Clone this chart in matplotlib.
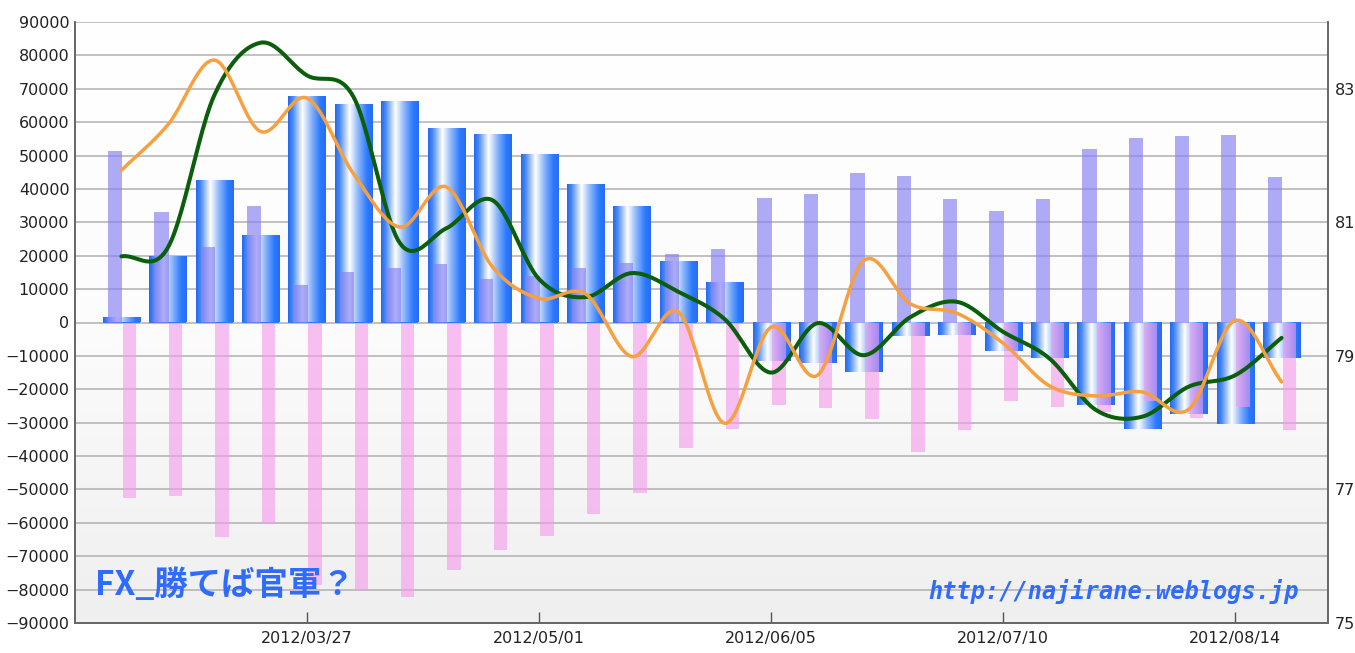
import numpy as np
import matplotlib
matplotlib.use("Agg")
import matplotlib.pyplot as plt
from matplotlib.colors import LinearSegmentedColormap

# ---------------- data ----------------
dates = ['2012/02/28', '2012/03/06', '2012/03/13', '2012/03/20', '2012/03/27',
         '2012/04/03', '2012/04/10', '2012/04/17', '2012/04/24', '2012/05/01',
         '2012/05/08', '2012/05/15', '2012/05/22', '2012/05/29', '2012/06/05',
         '2012/06/12', '2012/06/19', '2012/06/26', '2012/07/03', '2012/07/10',
         '2012/07/17', '2012/07/24', '2012/07/31', '2012/08/07', '2012/08/14',
         '2012/08/21']
long_pos = [51400, 33200, 22500, 35000, 11200, 15000, 16300, 17400, 13000, 13900,
            16400, 17700, 20400, 22000, 37400, 38400, 44900, 44000, 36900, 33300,
            36900, 52100, 55400, 55800, 56200, 43600]
short_pos = [-52700, -51900, -64200, -60200, -78700, -80000, -82200, -74200, -68000, -64000,
             -57400, -51000, -37700, -31800, -24800, -25500, -29000, -38900, -32200, -23500,
             -25300, -26800, -23600, -28500, -25300, -32300]
net_pos = [1200, 19600, 42500, 26000, 67400, 65000, 66000, 58100, 56200, 50100,
           41300, 34600, 18150, 11700, -11500, -12100, -14900, -4000, -3800, -8500,
           -10600, -24800, -31800, -27300, -30500, -10700]
green_line = [80.49, 80.62, 82.90, 83.69, 83.20, 82.88, 80.69, 80.91, 81.33, 80.15,
              79.88, 80.24, 79.96, 79.55, 78.75, 79.49, 79.01, 79.58, 79.81, 79.36,
              78.96, 78.19, 78.09, 78.54, 78.71, 79.27]
orange_line = [81.78, 82.46, 83.43, 82.36, 82.86, 81.73, 80.93, 81.53, 80.33, 79.86,
               79.93, 78.99, 79.66, 77.99, 79.43, 78.71, 80.43, 79.78, 79.64, 79.19,
               78.55, 78.40, 78.46, 78.20, 79.53, 78.61]
xtick_dates = ['2012/03/27', '2012/05/01', '2012/06/05', '2012/07/10', '2012/08/14']
left_ticks = list(range(-90000, 90001, 10000))
right_ticks = [75, 77, 79, 81, 83]

# ---------------- helpers ----------------
def catmull_rom(xs, ys, n=24):
    xs = np.asarray(xs, float); ys = np.asarray(ys, float)
    px = np.concatenate([[2 * xs[0] - xs[1]], xs, [2 * xs[-1] - xs[-2]]])
    py = np.concatenate([[2 * ys[0] - ys[1]], ys, [2 * ys[-1] - ys[-2]]])
    ox, oy = [], []
    t = np.linspace(0, 1, n, endpoint=False)
    for i in range(1, len(px) - 2):
        for arr, out in ((px, ox), (py, oy)):
            p0, p1, p2, p3 = arr[i - 1], arr[i], arr[i + 1], arr[i + 2]
            out.extend(0.5 * ((2 * p1) + (-p0 + p2) * t +
                              (2 * p0 - 5 * p1 + 4 * p2 - p3) * t ** 2 +
                              (-p0 + 3 * p1 - 3 * p2 + p3) * t ** 3))
    ox.append(xs[-1]); oy.append(ys[-1])
    return np.array(ox), np.array(oy)

# ---------------- figure ----------------
W, H = 1355, 653
fig = plt.figure(figsize=(W / 100, H / 100), dpi=100)
fig.patch.set_facecolor('white')
ax = fig.add_axes([75 / W, 1 - 623 / H, (1328 - 75) / W, (623 - 22) / H])
ax2 = ax.twinx()

x = np.arange(len(dates))
xlim = (-1, len(dates))
ylim = (-90000, 90000)

# background gradient (white top -> light grey bottom)
bg = np.linspace(0.0, 1.0, 256).reshape(-1, 1)
bg_cmap = LinearSegmentedColormap.from_list('bg', ['#ffffff', '#fcfcfc', '#efefef'])
ax.imshow(bg, extent=[xlim[0], xlim[1], ylim[0], ylim[1]], aspect='auto',
          cmap=bg_cmap, origin='upper', zorder=0)

# grid
for v in left_ticks:
    ax.axhline(v, color='#b0b0b0', lw=1.1, zorder=1)

# net bars with cylindrical gradient
net_bars = ax.bar(x, net_pos, width=0.8, color='#2f7af0', zorder=2, linewidth=0)
grad_cmap = LinearSegmentedColormap.from_list(
    'cyl', [(0.0, '#2268f0'), (0.12, '#4a8af5'), (0.38, '#ffffff'),
            (0.62, '#8ab4fa'), (0.85, '#2b7aff'), (1.0, '#2a6cf0')])
grad = np.linspace(0, 1, 128).reshape(1, -1)
for b in net_bars:
    x0, w = b.get_x(), b.get_width()
    y0, h = b.get_y(), b.get_height()
    ax.imshow(grad, extent=[x0, x0 + w, min(y0, y0 + h), max(y0, y0 + h)],
              aspect='auto', cmap=grad_cmap, zorder=2.1, interpolation='bilinear')

# long / short bars (semi-transparent overlay)
ax.bar(x - 0.14, long_pos, width=0.31, color='#8680f2', alpha=0.66, zorder=3, linewidth=0)
ax.bar(x + 0.17, short_pos, width=0.29, color='#f59aec', alpha=0.62, zorder=3, linewidth=0)

ax.set_xlim(*xlim)
ax.set_ylim(*ylim)
ax.set_yticks(left_ticks)
ax.set_yticklabels([str(v) if v >= 0 else '\u2212' + str(-v) for v in left_ticks])
tick_idx = [dates.index(d) for d in xtick_dates]
ax.set_xticks(tick_idx)
ax.set_xticklabels(xtick_dates)
ax.tick_params(axis='x', direction='in', length=8, width=1, color='#555555',
               labelsize=11.5, pad=6, labelcolor='#222222')
ax.tick_params(axis='y', length=0, labelsize=11.5, pad=4, labelcolor='#222222')

for s in ['top']:
    ax.spines[s].set_visible(False)
    ax2.spines[s].set_visible(False)
for s in ['left', 'bottom', 'right']:
    ax.spines[s].set_color('#666666')
    ax2.spines[s].set_color('#666666')
    ax.spines[s].set_linewidth(1.2)
    ax2.spines[s].set_linewidth(1.2)

# lines on right axis
gx, gy = catmull_rom(x, green_line)
ox_, oy_ = catmull_rom(x, orange_line)
ax2.plot(gx, gy, color='#0b5e0b', lw=2.9, solid_capstyle='round', zorder=4)
ax2.plot(ox_, oy_, color='#f7a040', lw=2.5, solid_capstyle='round', zorder=5)
ax2.set_ylim(75, 84)
ax2.set_yticks(right_ticks)
ax2.tick_params(axis='y', length=0, labelsize=11.5, pad=5, labelcolor='#222222')
ax2.set_xlim(*xlim)

# watermark texts
fig.text(95 / W, 1 - 585 / H, 'FX_勝てば官軍？', fontsize=24, fontweight='bold',
         style='italic', color='#2f6bff', va='center', ha='left',
         family=['Noto Sans CJK JP', 'DejaVu Sans'])
fig.text(928 / W, 1 - 591 / H, 'http://najirane.weblogs.jp', fontsize=17,
         fontweight='bold', style='italic', color='#2f6bff', va='center', ha='left',
         family='DejaVu Sans Mono')

fig.savefig('out.png', dpi=100)
